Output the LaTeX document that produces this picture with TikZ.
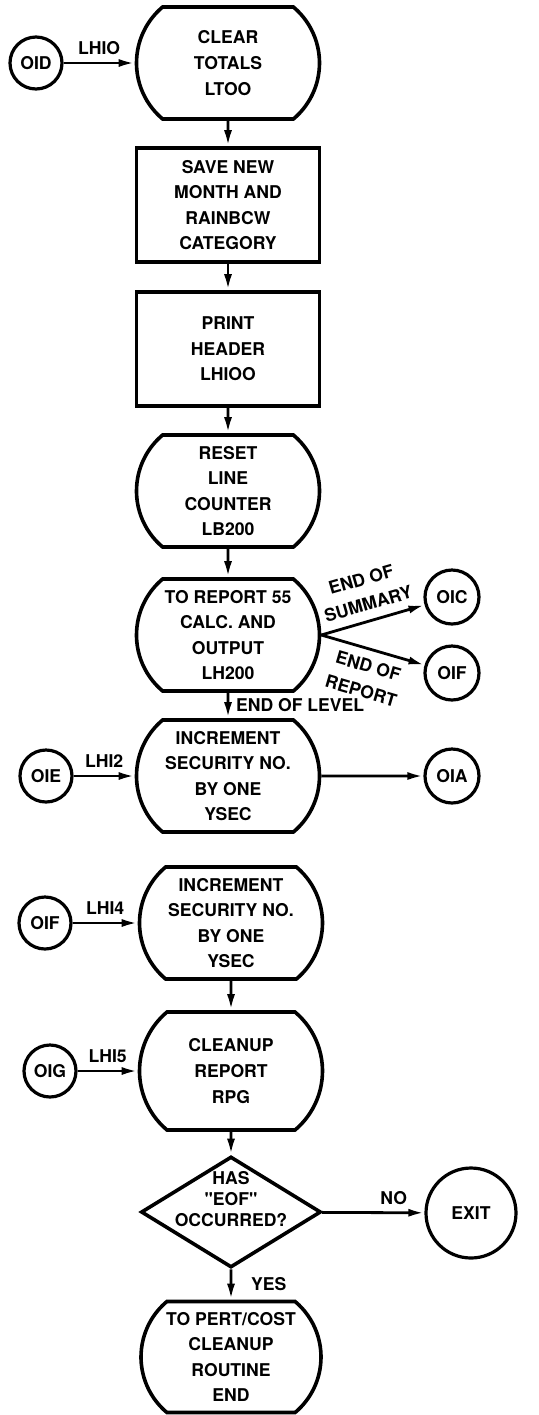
\documentclass[tikz,border=0pt]{standalone}
\usepackage{fontspec}
\setmainfont{TeX Gyre Heros}[Ligatures=TeXOff]
\usetikzlibrary{shapes.misc,shapes.geometric,arrows.meta}

\begin{document}
\begin{tikzpicture}[x=.5pt,y=-.5pt,
  every node/.style={font=\bfseries\fontsize{8.8}{12.8}\selectfont},
  proc/.style={draw,line width=1.8pt,rounded rectangle,rounded rectangle arc length=100,
    minimum width=91.5pt,minimum height=56pt,inner sep=0pt,align=center},
  box/.style={draw,line width=1.8pt,rectangle,minimum width=91.5pt,minimum height=57pt,align=center},
  conn/.style={draw,line width=1.6pt,circle,minimum size=26pt,inner sep=0pt},
  flow/.style={line width=1.4pt,-{Latex[length=8pt,width=4pt]}}]
\useasboundingbox (0,0) rectangle (539,1415);

\node[proc] (clear) at (228,63) {CLEAR\\TOTALS\\LTOO};
\node[box] (save) at (228,205) {SAVE NEW\\MONTH AND\\RAINBCW\\CATEGORY};
\node[box] (print) at (228,349) {PRINT\\HEADER\\LHIOO};
\node[proc] (reset) at (228,491) {RESET\\LINE\\COUNTER\\LB200};
\node[proc] (report) at (228,635) {TO REPORT 55\\CALC. AND\\OUTPUT\\LH200};
\node[proc] (incr) at (228,776) {INCREMENT\\SECURITY NO.\\BY ONE\\YSEC};
\node[proc] (incrb) at (231,923) {INCREMENT\\SECURITY NO.\\BY ONE\\YSEC};
\node[proc,minimum height=59pt] (cleanup) at (231,1071) {CLEANUP\\REPORT\\RPG};
\node[draw,diamond,line width=1.8pt,minimum width=90pt,minimum height=55.5pt,inner sep=0pt] (eof) at (231,1212) {};
\node[align=center,font=\bfseries\fontsize{8.8}{10.6}\selectfont] (eoftext) at (231,1199) {HAS\\"EOF"\\OCCURRED?};
\node[proc,minimum width=90pt,minimum height=55.5pt] (pert) at (231,1357) {TO PERT/COST\\CLEANUP\\ROUTINE\\END};

\node[conn] (oid) at (36,63) {OID};
\node[conn] (oie) at (46,776) {OIE};
\node[conn] (oifin) at (45,923) {OIF};
\node[conn] (oig) at (50,1071) {OIG};
\node[conn,minimum size=27pt] (oic) at (452,597) {OIC};
\node[conn,minimum size=27pt] (oif) at (452,673) {OIF};
\node[conn,minimum size=27pt] (oia) at (452,776) {OIA};
\node[conn,minimum size=45pt] (exit) at (471,1213) {EXIT};

\draw[flow] (oid) -- node[above] {LHIO} (clear);
\draw[flow] (clear) -- (save);
\draw[flow] (save) -- (print);
\draw[flow] (print) -- (reset);
\draw[flow] (reset) -- (report);
\draw[flow] (report.east) -- node[sloped,above=1pt,align=center] {END OF\\SUMMARY} (oic);
\draw[flow] (report.east) -- node[sloped,below=1pt,align=center] {END OF\\REPORT} (oif);
\draw[flow] (report) -- node[right] {END OF LEVEL} (incr);
\draw[flow] (oie) -- node[above] {LHI2} (incr);
\draw[flow] (incr) -- (oia);

\draw[flow] (oifin) -- node[above] {LHI4} (incrb);
\draw[flow] (incrb) -- (cleanup);
\draw[flow] (oig) -- node[above] {LHI5} (cleanup);
\draw[flow] (cleanup) -- (eof);
\draw[flow] (eof) -- node[above,pos=.7] {NO} (exit);
\draw[flow] (eof) -- node[right,xshift=6pt] {YES} (pert);

\end{tikzpicture}
\end{document}
